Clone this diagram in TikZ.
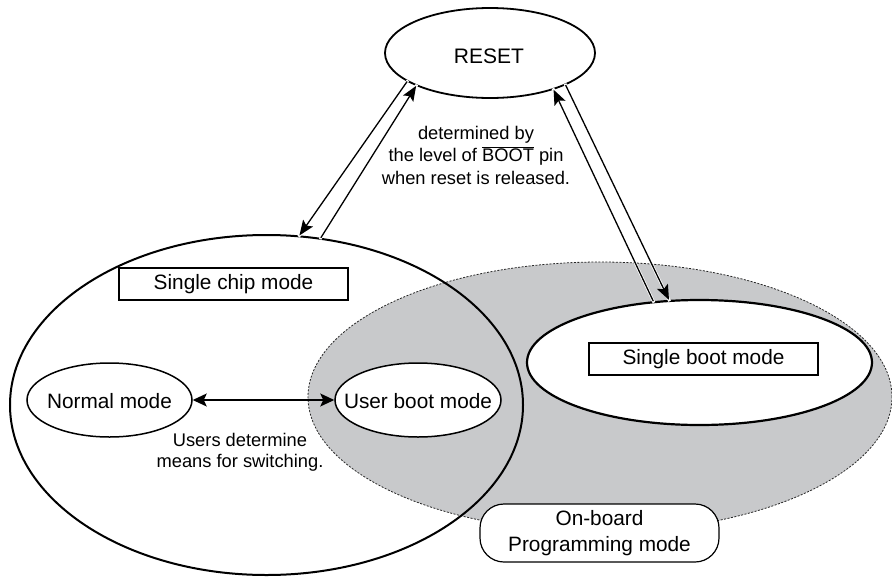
\documentclass[tikz,border=0pt]{standalone}
\usepackage{fontspec}
\setmainfont{Liberation Sans}
\usetikzlibrary{shapes.geometric,arrows.meta}
\definecolor{boardgray}{RGB}{200,201,203}
\tikzset{
  lbl/.style={font=\fontsize{20.8}{25}\selectfont, inner sep=0pt},
  note/.style={font=\fontsize{18.3}{22.5}\selectfont, align=center, inner sep=0pt},
  ell/.style={ellipse, draw, line width=1.8pt, inner sep=0pt},
  modebox/.style={rectangle, draw, line width=1.4pt, fill=white, minimum width=229pt, minimum height=32pt, inner sep=0pt, font=\fontsize{20.8}{25}\selectfont},
  arr/.style={line width=1.3pt, -{Stealth[length=15pt,width=12pt,inset=3pt]},
    preaction={draw=white, line width=2.8pt, arrows=-, shorten <=-1.5pt, shorten >=-1.5pt}},
  dblarr/.style={line width=1.3pt, {Stealth[length=14pt,width=13pt,inset=3pt]}-{Stealth[length=14pt,width=13pt,inset=3pt]}},
}
\begin{document}
\begin{tikzpicture}[x=1pt,y=-1pt]
\useasboundingbox (0,0) rectangle (892,576);
% on-board programming region
\node[ellipse, fill=boardgray, draw=black!85, line width=0.8pt, dash pattern=on 2pt off 1.5pt,
      minimum width=584pt, minimum height=270pt, inner sep=0pt] (board) at (600,397) {};
% single chip mode region
\node[ell, line width=2pt, minimum width=513pt, minimum height=340pt] (chip) at (266.5,405) {};
% RESET
\node[ell, minimum width=210pt, minimum height=90pt] (reset) at (490,53) {};
\node[lbl, font=\fontsize{21}{25}\selectfont] (resettxt) at (489,56) {RESET};
% single boot mode
\node[ell, line width=2.2pt, fill=white, minimum width=345pt, minimum height=125pt] (sboot) at (699.5,362.5) {};
\node[modebox] (sboottxt) at (703.5,359) {Single boot mode};
% single chip label
\node[modebox] (schiptxt) at (233.5,284) {Single chip mode};
% normal / user boot
\node[ell, line width=1.5pt, fill=white, minimum width=165pt, minimum height=74pt] (normal) at (109.5,400) {};
\node[lbl] (normaltxt) at (109.5,401) {Normal mode};
\node[ell, line width=1.5pt, fill=white, minimum width=166pt, minimum height=74pt] (userboot) at (418,400) {};
\node[lbl] (userboottxt) at (418,401) {User boot mode};
% on-board label
\node[draw, line width=1.2pt, fill=white, rounded corners=24pt, minimum width=239pt, minimum height=58pt,
      inner sep=0pt, align=center, font=\fontsize{20.8}{26}\selectfont] (onboard) at (599.5,533)
      {On-board\\Programming mode};
% notes
\node[note] (note1) at (476,155) {determined by\\the level of $\overline{\hbox{BOOT}}$ pin\\when reset is released.};
\node[note, font=\fontsize{18.3}{21}\selectfont] (note2) at (240,452) {Users determine\\means for switching.};
% connectors
\draw[arr] (reset.199) -- (chip.79.6);
\draw[arr] (chip.72.8) -- (reset.204.3);
\draw[arr] (sboot.127) -- (reset.-30);
\draw[arr] (reset.-23) -- (sboot.116.6);
\draw[dblarr] (normal) -- (userboot);
\end{tikzpicture}
\end{document}
